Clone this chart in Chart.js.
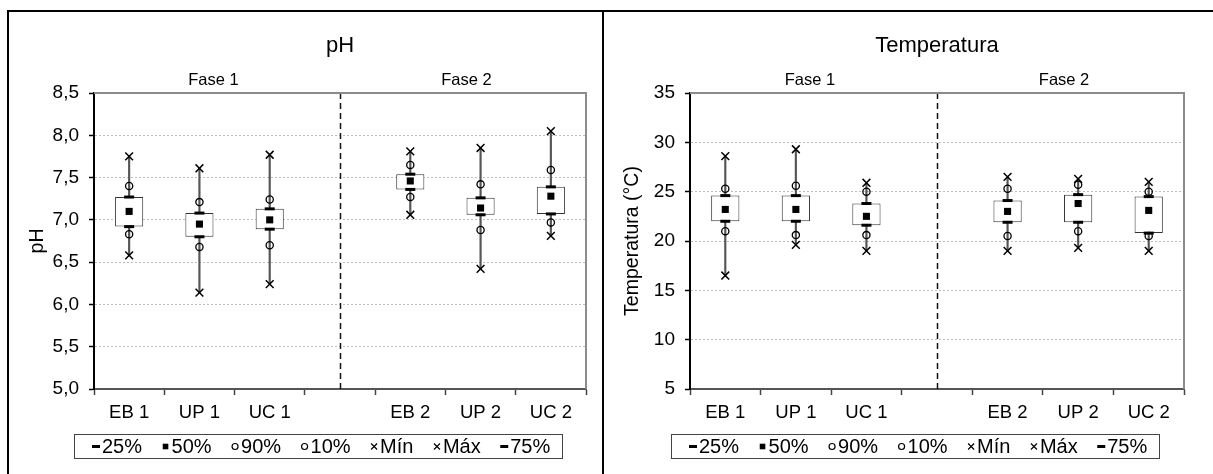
<!DOCTYPE html>
<html>
<head>
<meta charset="utf-8">
<title>pH e Temperatura</title>
<script src="https://cdn.jsdelivr.net/npm/chart.js@4.4.1/dist/chart.umd.min.js"></script>
<style>
  html, body { margin: 0; padding: 0; background: #fff; }
  body { width: 1213px; height: 474px; position: relative; overflow: hidden; }
  .frame { position: absolute; left: 7px; top: 10px; width: 1215px; height: 470px;
           border-top: 2px solid #000; border-left: 2px solid #000; }
  .split { position: absolute; left: 602px; top: 10px; width: 2px; height: 470px; background: #000; }
  .panel { position: absolute; top: 12px; height: 462px; }
  #leftPanel { left: 9px; width: 593px; }
  #rightPanel { left: 604px; width: 609px; }
</style>
</head>
<body>
<div class="frame"></div>
<div class="split"></div>
<div class="panel" id="leftPanel"><canvas id="phChart"></canvas></div>
<div class="panel" id="rightPanel"><canvas id="tempChart"></canvas></div>

<script>
  "use strict";

  // Categories (the empty slot separates Fase 1 from Fase 2)
  const categories = ["EB 1", "UP 1", "UC 1", "", "EB 2", "UP 2", "UC 2"];
  const phaseLabels = ["Fase 1", "Fase 2"];
  const legendLabels = ["25%", "50%", "90%", "10%", "Mín", "Máx", "75%"];

  // pH percentiles
  const phMin = [6.58, 6.14, 6.24, null, 7.06, 6.42, 6.81];
  const phP10 = [6.83, 6.68, 6.70, null, 7.27, 6.88, 6.97];
  const phP25 = [6.92, 6.80, 6.89, null, 7.36, 7.06, 7.07];
  const phP50 = [7.10, 6.95, 7.00, null, 7.46, 7.14, 7.28];
  const phP75 = [7.27, 7.08, 7.13, null, 7.54, 7.26, 7.39];
  const phP90 = [7.40, 7.21, 7.24, null, 7.65, 7.42, 7.59];
  const phMax = [7.75, 7.61, 7.77, null, 7.81, 7.85, 8.05];

  // Temperatura percentiles (°C)
  const tempMin = [16.5, 19.6, 19.0, null, 19.0, 19.3, 19.0];
  const tempP10 = [21.0, 20.6, 20.6, null, 20.5, 21.0, 20.5];
  const tempP25 = [22.0, 22.0, 21.6, null, 21.9, 21.9, 20.8];
  const tempP50 = [23.2, 23.2, 22.5, null, 23.0, 23.8, 23.1];
  const tempP75 = [24.6, 24.6, 23.8, null, 24.1, 24.7, 24.5];
  const tempP90 = [25.3, 25.6, 25.0, null, 25.3, 25.7, 25.0];
  const tempMax = [28.6, 29.3, 25.9, null, 26.5, 26.3, 26.0];

  // Axis ranges
  const phAxis = { min: 5, max: 8.5, step: 0.5 };
  const tempAxis = { min: 5, max: 35, step: 5 };

  const FONT = '"Liberation Sans", Arial, sans-serif';

  function pairs(lo, hi) {
    return lo.map((v, i) => (v == null ? null : [v, hi[i]]));
  }

  // Small marker painter, used for the boxed legend
  function drawMarker(ctx, m, x, y) {
    ctx.save();
    ctx.strokeStyle = "#000";
    ctx.fillStyle = "#000";
    ctx.lineWidth = m.lw;
    ctx.beginPath();
    if (m.style === "line") {
      ctx.moveTo(x - m.r, y);
      ctx.lineTo(x + m.r, y);
      ctx.stroke();
    } else if (m.style === "rect") {
      ctx.fillRect(x - m.r, y - m.r, m.r * 2, m.r * 2);
    } else if (m.style === "circle") {
      ctx.arc(x, y, m.r, 0, Math.PI * 2);
      ctx.stroke();
    } else if (m.style === "crossRot") {
      ctx.moveTo(x - m.r, y - m.r); ctx.lineTo(x + m.r, y + m.r);
      ctx.moveTo(x + m.r, y - m.r); ctx.lineTo(x - m.r, y + m.r);
      ctx.stroke();
    }
    ctx.restore();
  }

  function pointSet(label, data, style, radius, width, fill, legendMarker) {
    return {
      type: "line",
      label: label,
      data: data,
      showLine: false,
      pointStyle: style,
      pointRadius: radius,
      pointHoverRadius: radius,
      pointBorderWidth: width,
      pointBorderColor: "#000",
      pointBackgroundColor: fill,
      order: 0,
      legendMarker: legendMarker
    };
  }

  // Title, phase labels, divider, plot frame and boxed legend
  const decorPlugin = {
    id: "decor",
    beforeDatasetsDraw(chart) {
      const ctx = chart.ctx, a = chart.chartArea, xs = chart.scales.x;
      const gx = Math.round(xs.getPixelForValue(3)) + 0.5;
      ctx.save();
      ctx.strokeStyle = "#111";
      ctx.lineWidth = 1.5;
      ctx.setLineDash([6, 4]);
      ctx.beginPath();
      ctx.moveTo(gx, a.top);
      ctx.lineTo(gx, a.bottom);
      ctx.stroke();
      ctx.restore();
    },
    afterDraw(chart) {
      const ctx = chart.ctx, a = chart.chartArea, xs = chart.scales.x;
      const opts = chart.options.plugins.decor;
      const mid = (a.left + a.right) / 2;

      ctx.save();
      // plot frame (top + right)
      ctx.strokeStyle = "#8c8c8c";
      ctx.lineWidth = 2;
      ctx.beginPath();
      ctx.moveTo(a.left, a.top);
      ctx.lineTo(a.right, a.top);
      ctx.lineTo(a.right, a.bottom);
      ctx.stroke();

      ctx.fillStyle = "#000";
      ctx.textAlign = "center";
      ctx.textBaseline = "middle";
      ctx.font = "22px " + FONT;
      ctx.fillText(opts.title, mid, a.top - 47);

      ctx.font = "16.5px " + FONT;
      ctx.fillText(phaseLabels[0], xs.getPixelForValue(1.2), a.top - 13);
      ctx.fillText(phaseLabels[1], xs.getPixelForValue(4.8), a.top - 13);

      // boxed legend
      ctx.font = "20px " + FONT;
      const items = chart.data.datasets.filter(d => d.legendMarker);
      items.sort((p, q) => legendLabels.indexOf(p.label) - legendLabels.indexOf(q.label));
      const slot = 10, gap = 19.5, padL = 17.5, padR = 12;
      let total = padL + padR;
      items.forEach((d, i) => { total += slot + ctx.measureText(d.label).width + (i ? gap : 0); });
      const left = Math.round(mid - 22 - total / 2) + 0.5;
      const top = Math.round(a.bottom + 45) + 0.5;
      const h = 24;
      ctx.strokeStyle = "#444";
      ctx.lineWidth = 1;
      ctx.strokeRect(left, top, Math.round(total), h);
      let x = left + padL;
      const y = top + h / 2;
      ctx.textAlign = "left";
      items.forEach(d => {
        drawMarker(ctx, d.legendMarker, x + 4, y);
        ctx.fillStyle = "#000";
        ctx.fillText(d.label, x + slot, y + 1);
        x += slot + ctx.measureText(d.label).width + gap;
      });
      ctx.restore();
    }
  };

  function renderBoxChart(el, cfg) {
    const s = cfg.series;
    new Chart(el, {
      type: "bar",
      data: {
        labels: categories,
        datasets: [
          {
            label: "whisker",
            data: pairs(s.min, s.max),
            backgroundColor: "#555",
            borderWidth: 0,
            barThickness: 1.5,
            grouped: false,
            order: 20
          },
          {
            label: "box",
            data: pairs(s.p25, s.p75),
            backgroundColor: "#fff",
            borderColor: "#333",
            borderWidth: 1,
            borderSkipped: false,
            barPercentage: 0.4,
            categoryPercentage: 1,
            grouped: false,
            order: 10
          },
          pointSet("25%", s.p25, "line", 5, 3, "#000", { style: "line", r: 4, lw: 3 }),
          pointSet("75%", s.p75, "line", 5, 3, "#000", { style: "line", r: 4, lw: 3 }),
          pointSet("50%", s.p50, "rect", 5, 0, "#000", { style: "rect", r: 2.8, lw: 0 }),
          pointSet("90%", s.p90, "circle", 3.6, 1.3, "rgba(0,0,0,0)", { style: "circle", r: 3, lw: 1.2 }),
          pointSet("10%", s.p10, "circle", 3.6, 1.3, "rgba(0,0,0,0)", { style: "circle", r: 3, lw: 1.2 }),
          pointSet("Mín", s.min, "crossRot", 5.5, 1.5, "#000", { style: "crossRot", r: 3, lw: 1.2 }),
          pointSet("Máx", s.max, "crossRot", 5.5, 1.5, "#000", { style: "crossRot", r: 3, lw: 1.2 })
        ]
      },
      options: {
        responsive: true,
        maintainAspectRatio: false,
        animation: false,
        events: [],
        layout: { padding: { top: 81, right: cfg.padRight, bottom: 0, left: 0 } },
        plugins: {
          legend: { display: false },
          tooltip: { enabled: false },
          decor: { title: cfg.title }
        },
        scales: {
          x: {
            offset: true,
            afterFit: function (scale) { scale.height = 85; },
            grid: {
              offset: true,
              drawOnChartArea: false,
              drawTicks: true,
              tickLength: 6,
              tickColor: "#444",
              tickWidth: 1.5
            },
            border: { color: "#555", width: 2 },
            ticks: {
              color: "#000",
              padding: 7,
              font: { family: FONT, size: 18.5 },
              autoSkip: false,
              maxRotation: 0
            }
          },
          y: {
            min: cfg.axis.min,
            max: cfg.axis.max,
            afterFit: function (scale) { scale.width = cfg.axisWidth; },
            title: {
              display: true,
              text: cfg.yTitle,
              color: "#000",
              font: { family: FONT, size: 19.5 },
              padding: { top: 17, bottom: 0 }
            },
            grid: {
              color: c => (c.tick && (c.tick.value === cfg.axis.min || c.tick.value === cfg.axis.max))
                ? "rgba(0,0,0,0)" : "#bdbdbd",
              lineWidth: 1,
              drawTicks: true,
              tickLength: 5,
              tickColor: "#000",
              tickWidth: 1.5,
              tickBorderDash: []
            },
            border: { color: "#000", width: 2, dash: [2, 2] },
            ticks: {
              stepSize: cfg.axis.step,
              color: "#000",
              padding: 10,
              font: { family: FONT, size: 19 },
              callback: cfg.fmt
            }
          }
        }
      },
      plugins: [decorPlugin]
    });
  }

  document.addEventListener("DOMContentLoaded", function () {
    renderBoxChart(document.getElementById("phChart"), {
      title: "pH",
      yTitle: "pH",
      axis: phAxis,
      axisWidth: 85,
      padRight: 16,
      fmt: v => Number(v).toFixed(1).replace(".", ","),
      series: { min: phMin, p10: phP10, p25: phP25, p50: phP50, p75: phP75, p90: phP90, max: phMax }
    });

    renderBoxChart(document.getElementById("tempChart"), {
      title: "Temperatura",
      yTitle: "Temperatura (°C)",
      axis: tempAxis,
      axisWidth: 86,
      padRight: 29,
      fmt: v => String(v),
      series: { min: tempMin, p10: tempP10, p25: tempP25, p50: tempP50, p75: tempP75, p90: tempP90, max: tempMax }
    });
  });
</script>
</body>
</html>
